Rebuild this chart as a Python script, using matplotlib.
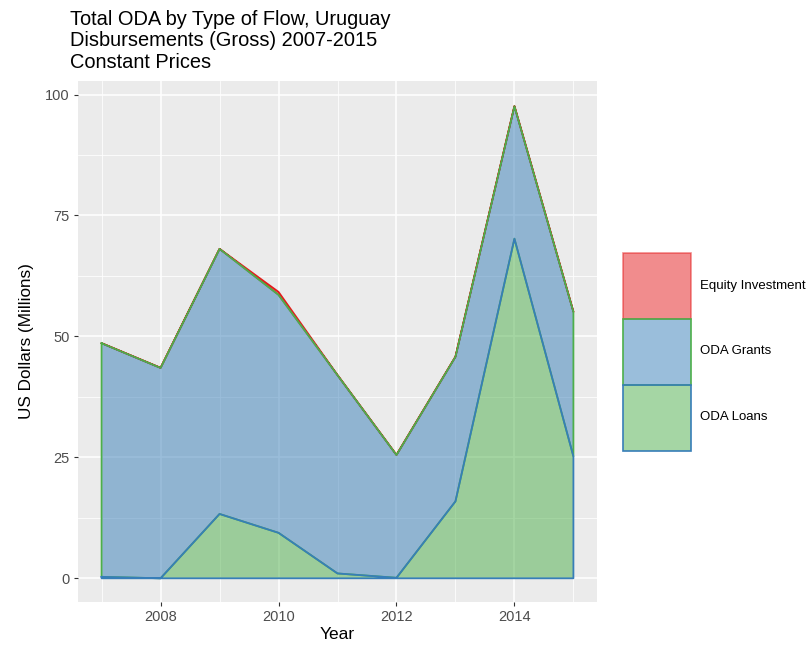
import matplotlib
matplotlib.use("Agg")
import matplotlib.pyplot as plt
import matplotlib.colors as mcolors
from matplotlib.patches import Patch
import numpy as np

years = [2007, 2008, 2009, 2010, 2011, 2012, 2013, 2014, 2015]
loans = [0.3, 0.0, 13.3, 9.4, 1.0, 0.1, 15.9, 70.2, 25.2]
grants = [48.3, 43.5, 54.8, 49.2, 41.0, 25.4, 29.9, 27.4, 29.9]
equity = [0.0, 0.0, 0.0, 0.6, 0.0, 0.0, 0.0, 0.0, 0.0]
series_names = ["Equity Investment", "ODA Grants", "ODA Loans"]

fill_cols = {"Equity Investment": "#E41A1C", "ODA Grants": "#377EB8", "ODA Loans": "#4DAF4A"}
edge_cols = {"Equity Investment": "#E41A1C", "ODA Grants": "#4DAF4A", "ODA Loans": "#377EB8"}

plt.rcParams['font.family'] = ['Liberation Sans', 'DejaVu Sans']

fig = plt.figure(figsize=(8.08, 6.48), dpi=100)
ax = fig.add_axes([78/808, 1-602/648, (597-78)/808, (602-81)/648])
ax.set_facecolor("#EBEBEB")

x = np.array(years, dtype=float)
l = np.array(loans)
g = np.array(grants)
e = np.array(equity)

layers = {
    "ODA Loans": (np.zeros_like(l), l),
    "ODA Grants": (l, l + g),
    "Equity Investment": (l + g, l + g + e),
}
for i, name in enumerate(series_names):
    lo, hi = layers[name]
    z = 2 + i * 2
    ax.fill_between(x, lo, hi, facecolor=fill_cols[name], alpha=0.5, linewidth=0, zorder=z)
    px = np.concatenate([x, x[::-1], x[:1]])
    py = np.concatenate([hi, lo[::-1], hi[:1]])
    ax.plot(px, py, color=edge_cols[name], linewidth=1.3, zorder=z + 1)

ax.set_xlim(2006.6, 2015.4)
ax.set_ylim(-4.9, 102.8)
ax.set_xticks([2008, 2010, 2012, 2014])
ax.set_xticks([2007, 2009, 2011, 2013, 2015], minor=True)
ax.set_yticks([0, 25, 50, 75, 100])
ax.set_yticks([12.5, 37.5, 62.5, 87.5], minor=True)
ax.grid(which='major', color='white', linewidth=1.1, zorder=0)
ax.grid(which='minor', color='white', linewidth=0.55, zorder=0)
ax.set_axisbelow(True)
for s in ax.spines.values():
    s.set_visible(False)
ax.tick_params(which='major', length=3, color='#333333', labelcolor='#4D4D4D', labelsize=10.5, width=0.8, pad=3)
ax.tick_params(which='minor', length=0)
ax.set_xlabel("Year", fontsize=12.5, color='black', labelpad=2)
ax.set_ylabel("US Dollars (Millions)", fontsize=12.3, color='black', labelpad=8)

fig.text(70/808, 1-10/648, "Total ODA by Type of Flow, Uruguay\nDisbursements (Gross) 2007-2015\nConstant Prices",
         fontsize=14.4, va='top', ha='left', linespacing=1.15)

handles = []
for n in series_names:
    ec = edge_cols[n] if n != "Equity Investment" else mcolors.to_rgba(fill_cols[n], 0.5)
    handles.append(Patch(facecolor=mcolors.to_rgba(fill_cols[n], 0.5), edgecolor=ec, linewidth=1.2))
fs = 9.5
hpx = 67.5
fspx = fs * 100 / 72
leg = fig.legend(handles, series_names, loc='center left', bbox_to_anchor=(623/808, 1-352/648),
                 frameon=False, fontsize=fs, handlelength=hpx / fspx, handleheight=hpx / fspx / 0.7,
                 labelspacing=0.0, handletextpad=0.75, borderpad=0, borderaxespad=0)

fig.savefig("out.png", dpi=100)
